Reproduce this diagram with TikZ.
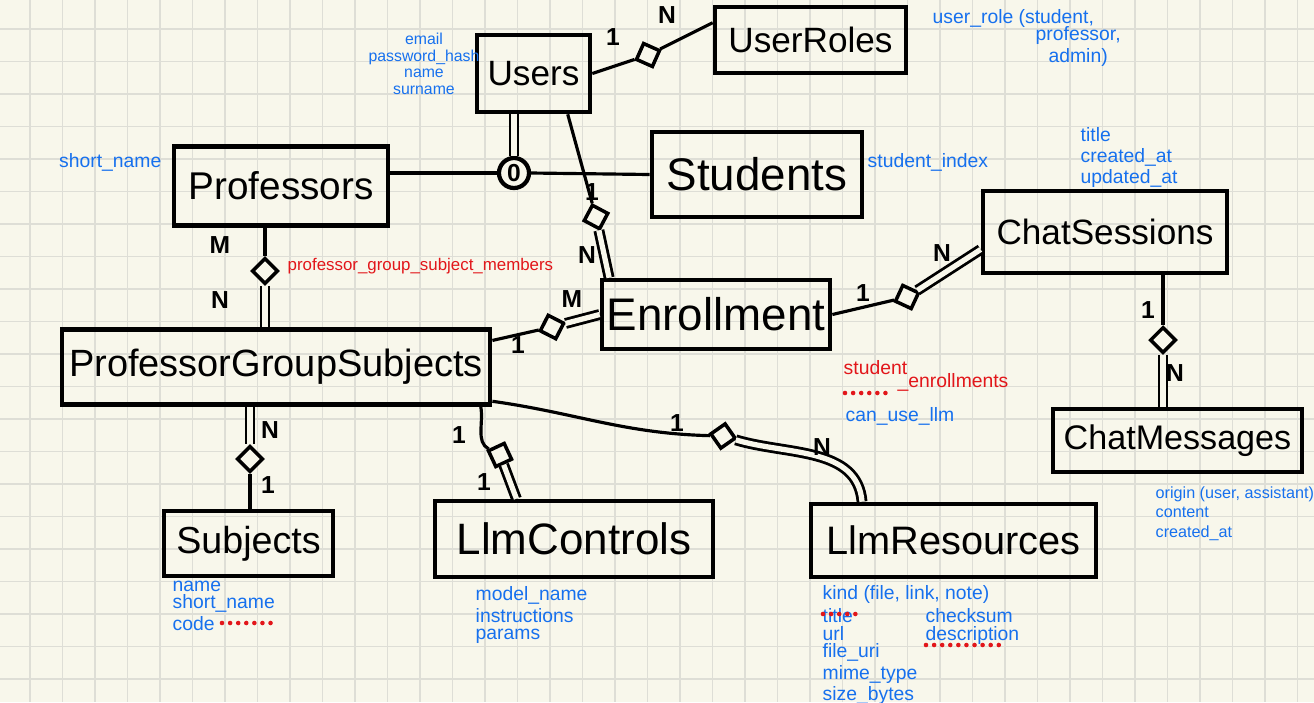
\documentclass[tikz,border=0pt]{standalone}
\usepackage{fontspec}
\setmainfont{Liberation Sans}
\usepackage{xcolor}
\usetikzlibrary{shapes.geometric}
\definecolor{paper}{RGB}{248,247,235}
\definecolor{gridgray}{RGB}{222,222,214}
\definecolor{penblue}{RGB}{22,112,238}
\definecolor{penred}{RGB}{226,22,26}
\tikzset{rel/.style={diamond, aspect=1, draw, fill=paper, line width=1pt, minimum size=0.26cm, inner sep=0pt, rotate=#1},
%relation diamonds lie flat unless turned
rel/.default={0}}

\begin{document}
\begin{tikzpicture}[x=0.01cm,y=-0.01cm,
                    entity/.style={rectangle,draw,line width=1.3pt,inner sep=0pt,font=\fontsize{#1}{#1}\selectfont},
                    note/.style={text=penblue,font=\fontsize{5.5}{5}\selectfont,inner sep=0pt,align=left},
                    card/.style={font=\bfseries\fontsize{7}{7}\selectfont,inner sep=0pt},
                    conn/.style={line width=0.9pt},
                    dbl/.style={line width=0.8pt,double=paper,double distance=1.5pt},
                    reddots/.style={penred,line width=1.3pt,line cap=round,dash pattern=on 0pt off 2.3pt}]

%DRAWING paper and grid

 \useasboundingbox (0,0) rectangle (1314,702);
 \fill[paper] (0,0) rectangle (1314,702);

 \foreach \x in {0,...,39}
 {\draw[gridgray,line width=0.45pt] ({30+32.5*\x},0)--++(0,702);}
 \foreach \y in {0,...,20}
 {\draw[gridgray,line width=0.45pt] (0,{29+32.5*\y})--++(1314,0);}

%Inserting tables
  \node[entity=10,minimum width=1.13cm,minimum height=0.77cm] (Users) at (533.5,73.5) {Users};
  \node[entity=10,minimum width=1.91cm,minimum height=0.66cm] (UserRoles) at (810.5,40) {UserRoles};
  \node[entity=11,minimum width=2.14cm,minimum height=0.79cm] (Professors) at (281,186) {Professors};
  \node[entity=13,minimum width=2.10cm,minimum height=0.85cm] (Students) at (757,174.5) {Students};
  \node[entity=10,minimum width=2.44cm,minimum height=0.82cm] (ChatSessions) at (1105,232) {ChatSessions};
  \node[entity=13,minimum width=2.28cm,minimum height=0.69cm] (Enrollment) at (716,314.5) {Enrollment};
  \node[entity=10.8,minimum width=4.28cm,minimum height=0.75cm] (PGS) at (276,367) {ProfessorGroupSubjects};
  \node[entity=9.7,minimum width=2.49cm,minimum height=0.63cm] (ChatMessages) at (1177.5,440.5) {ChatMessages};
  \node[entity=10.7,minimum width=1.69cm,minimum height=0.65cm] (Subjects) at (248.5,543.5) {Subjects};
  \node[entity=12.5,minimum width=2.78cm,minimum height=0.76cm] (LlmControls) at (574,539) {LlmControls};
  \node[entity=11.3,minimum width=2.85cm,minimum height=0.73cm] (LlmResources) at (953.5,540.5) {LlmResources};

%Inserting relations
  \node[circle,draw,fill=paper,line width=1.2pt,minimum size=0.3cm,inner sep=0pt,font=\bfseries\fontsize{7}{7}\selectfont] (UserKind) at (514,173) {0};
  \node[rel=21] (UsersRolesRel) at (648,55) {};
  \node[rel=17] (UsersEnrRel) at (596,217) {};
  \node[rel] (ProfPgsRel) at (265,271) {};
  \node[rel=18] (PgsEnrRel) at (552,327) {};
  \node[rel=20] (EnrChatRel) at (907,297) {};
  \node[rel] (ChatMsgRel) at (1163,340) {};
  \node[rel] (PgsSubjRel) at (250,459) {};
  \node[rel=-20] (PgsCtrlRel) at (500,455) {};
  \node[rel=-10] (PgsResRel) at (723,436) {};

  \draw[conn] (Users.east) -- (UsersRolesRel);
  \draw[conn] (UsersRolesRel) -- (UserRoles.170);
  \draw[dbl] (Users.south -| UserKind.north) -- (UserKind.north);
  \draw[conn] (Professors.east |- UserKind) -- (UserKind.west);
  \draw[conn] (UserKind.east) -- (Students.west);
  \draw[conn] (Users.-50) -- (UsersEnrRel);
  \draw[dbl] (UsersEnrRel) -- (Enrollment.161);
  \draw[conn] (Professors.south -| ProfPgsRel) -- (ProfPgsRel);
  \draw[dbl] (ProfPgsRel) -- (PGS.north -| ProfPgsRel);
  \draw[conn] (PGS.7) -- (PgsEnrRel);
  \draw[dbl] (PgsEnrRel) -- (Enrollment.west);
  \draw[conn] (Enrollment.east) -- (EnrChatRel);
  \draw[dbl] (EnrChatRel) -- (ChatSessions.188);
  \draw[conn] (ChatSessions.south -| ChatMsgRel) -- (ChatMsgRel);
  \draw[dbl] (ChatMsgRel) -- (ChatMessages.north -| ChatMsgRel);
  \draw[dbl] (PGS.south -| PgsSubjRel) -- (PgsSubjRel);
  \draw[conn] (PgsSubjRel) -- (Subjects.north -| PgsSubjRel);
  \draw[conn] (PGS.-11) to[out=-80,in=160] (PgsCtrlRel);
  \draw[dbl] (PgsCtrlRel) -- (LlmControls.145);
  \draw[conn] (PGS.-9) to[out=-8,in=180] (PgsResRel);
  \draw[dbl] (PgsResRel) to[out=-15,in=95] (LlmResources.157);

%Cardinalities
  \node[card] (UsersRolesOne) at (613,37) {1};
  \node[card] (UsersRolesMany) at (667,15) {N};
  \node[card] (ProfPgsM) at (220,245) {M};
  \node[card] (ProfPgsN) at (220,300) {N};
  \node[card] (UsersEnrOne) at (592,192) {1};
  \node[card] (UsersEnrMany) at (587,255) {N};
  \node[card] (PgsEnrOne) at (518,345) {1};
  \node[card] (PgsEnrMany) at (572,299) {M};
  \node[card] (EnrChatOne) at (863,293) {1};
  \node[card] (EnrChatMany) at (942,253) {N};
  \node[card] (ChatMsgOne) at (1148,310) {1};
  \node[card] (ChatMsgMany) at (1175,373) {N};
  \node[card] (PgsSubjMany) at (270,430) {N};
  \node[card] (PgsSubjOne) at (268,485) {1};
  \node[card] (PgsCtrlOne) at (459,435) {1};
  \node[card] (PgsCtrlOneB) at (484,482) {1};
  \node[card] (PgsResOne) at (677,423) {1};
  \node[card] (PgsResMany) at (822,447) {N};

%Columns and join tables
  \node[note,align=center,font=\fontsize{4.5}{4.7}\selectfont] (UsersCols) at (424,64) {email\\password\_hash\\name\\surname};
  \node[note,anchor=west] (RolesCol) at (932,18) {user\_role (student,};
  \node[note,anchor=north west,align=center] (RolesColCont) at (1035,26) {professor,\\admin)};
  \node[note,anchor=east] (ProfCols) at (162,162) {short\_name};
  \node[note,anchor=west] (StudentCols) at (867,162) {student\_index};
  \node[note,anchor=north west,font=\fontsize{5.5}{6}\selectfont] (ChatCols) at (1080,127) {title\\created\_at\\updated\_at};
  \node[note,anchor=west,text=penred,font=\fontsize{4.8}{5}\selectfont] (MembersTable) at (287,266) {professor\_group\_subject\_members};
  \node[note,anchor=west,text=penred] (EnrollTable) at (843,368) {student};
  \node[note,anchor=west,text=penred] (EnrollTableCont) at (897,382) {\_enrollments};
  \draw[reddots] (845,393) -- (893,393);
  \node[note,anchor=west] (EnrollCols) at (845,416) {can\_use\_llm};
  \node[note,anchor=north west,font=\fontsize{4.6}{5.5}\selectfont] (MessageCols) at (1155,486) {origin (user, assistant)\\content\\created\_at};
  \node[note,anchor=north west] (SubjectCols) at (172,580) {name\\short\_name\\code};
  \draw[reddots] (222,623) -- (272,623);
  \node[note,anchor=north west] (ControlCols) at (475,586) {model\_name\\instructions\\params};
  \node[note,anchor=west] (ResourceKind) at (822,594) {kind (file, link, note)};
  \node[note,anchor=north west] (ResourceCols) at (822,608) {title\\url\\file\_uri\\mime\_type\\size\_bytes};
  \draw[reddots] (823,614) -- (858,614);
  \node[note,anchor=north west] (ResourceColsMore) at (925,608) {checksum\\description};
  \draw[reddots] (926,645) -- (1000,645);

\end{tikzpicture}
\end{document}
